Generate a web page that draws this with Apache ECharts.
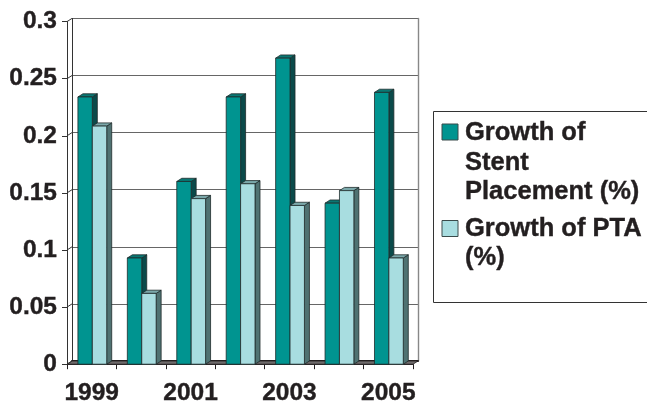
<!DOCTYPE html>
<html><head><meta charset="utf-8">
<style>html,body{margin:0;padding:0;background:#fff}#c{width:647px;height:403px}</style>
<script src="https://cdn.jsdelivr.net/npm/echarts@6/dist/echarts.min.js"></script>
</head><body><div id="c"></div>
<script>
const categories = ['1999','2000','2001','2002','2003','2004','2005'];
const stentGrowth = [0.234,0.093,0.160,0.234,0.268,0.141,0.238];
const ptaGrowth = [0.2085,0.062,0.145,0.158,0.139,0.152,0.093];
const yTicks = [0,0.05,0.1,0.15,0.2,0.25,0.3];
const legendLines = [['Growth of','Stent','Placement (%)'],['Growth of PTA','(%)']];
const stentNames = 'Growth of Stent Placement (%)';
const ptaNames = 'Growth of PTA (%)';

const FONT = '"Liberation Sans", Arial, sans-serif';
const INK = '#231f20';
const DX = 5, DY = 3.2, BAR = 14.4;
const OUT = '#1e2b2b';

function barSeries(name, data, offset, front, top, side) {
  return {
    type: 'custom', name, xAxisIndex: 0, yAxisIndex: 0, clip: false, silent: true,
    encode: {x: 0, y: 1},
    data: data.map((v, i) => [i, v]),
    renderItem(params, api) {
      const p = api.coord([api.value(0), api.value(1)]);
      const b = api.coord([api.value(0), 0]);
      const x0 = p[0] + 0.6 + offset * BAR, x1 = x0 + BAR, y0 = p[1], y1 = b[1];
      const st = {stroke: OUT, lineWidth: 0.8};
      return {type: 'group', children: [
        {type: 'polygon', shape: {points: [[x1,y0],[x1+DX,y0-DY],[x1+DX,y1-DY],[x1,y1]]}, style: {fill: side, ...st}},
        {type: 'polygon', shape: {points: [[x0,y0],[x0+DX,y0-DY],[x1+DX,y0-DY],[x1,y0]]}, style: {fill: top, ...st}},
        {type: 'rect', shape: {x: x0, y: y0, width: BAR, height: y1-y0}, style: {fill: front, ...st}}
      ]};
    }
  };
}

const wall = {
  type: 'custom', xAxisIndex: 0, yAxisIndex: 0, clip: false, silent: true, z: 1,
  encode: {y: 1},
  data: yTicks.map((v, i) => [i, v]),
  renderItem(params, api) {
    const cs = params.coordSys;
    const y = api.coord([0, api.value(1)])[1];
    const kids = [{type: 'line', shape: {x1: cs.x, y1: y, x2: cs.x+DX, y2: y-DY}, style: {stroke: '#333', lineWidth: 1}}];
    if (api.value(1) === 0) {
      kids.unshift({type: 'polygon', shape: {points: [[cs.x,y],[cs.x+DX,y-DY],[cs.x+cs.width+DX,y-DY],[cs.x+cs.width,y]]},
        style: {fill: '#6f6b6c', stroke: '#231f20', lineWidth: 0.8}});
    }
    return {type: 'group', children: kids};
  }
};

const gfx = [{type: 'rect', shape: {x: 433.5, y: 111.5, width: 240, height: 191}, style: {fill: '#fff', stroke: '#333', lineWidth: 1}}];
const swatches = [[124, '#009490', 465, 146],[220.5, '#a8dde0', 465, 241.5]];
legendLines.forEach((lines, k) => {
  const [sy, col, tx, base] = swatches[k];
  gfx.push({type: 'rect', shape: {x: 442, y: sy, width: 16, height: 16}, style: {fill: col, stroke: '#3a4a4a', lineWidth: 1}});
  lines.forEach((t, j) => gfx.push({type: 'text', x: tx, y: base + j * 29.6,
    style: {text: t, fill: INK, font: 'bold 25.5px ' + FONT, textAlign: 'left', textVerticalAlign: 'bottom', stroke: INK, lineWidth: 0.4}}));
});

const chart = echarts.init(document.getElementById('c'), null, {renderer: 'canvas'});
chart.setOption({
  animation: false,
  backgroundColor: '#fff',
  graphic: gfx,
  grid: [
    {left: 67, top: 21.6, width: 346, height: 342.6, outerBoundsMode: 'none'},
    {left: 67 + DX, top: 21.6 - DY, width: 346, height: 342.6, outerBoundsMode: 'none'}
  ],
  xAxis: [
    {type: 'category', gridIndex: 0, data: categories,
     axisLine: {lineStyle: {color: INK, width: 1.2}},
     axisTick: {show: true, interval: 0, length: 5, lineStyle: {color: INK, width: 1}},
     axisLabel: {interval: 1, margin: 17, color: INK, fontFamily: FONT, fontWeight: 'bold', fontSize: 24.5, hideOverlap: false,
       textBorderColor: INK, textBorderWidth: 0.4}},
    {type: 'category', gridIndex: 1, data: categories, position: 'top',
     axisLine: {lineStyle: {color: '#231f20', width: 2}}, axisTick: {show: false}, axisLabel: {show: false}}
  ],
  yAxis: [
    {type: 'value', gridIndex: 0, min: 0, max: 0.3, interval: 0.05,
     axisLine: {show: true, lineStyle: {color: '#333', width: 1}},
     axisTick: {show: true, length: 5, lineStyle: {color: '#333', width: 1}},
     splitLine: {show: false},
     axisLabel: {margin: 10, color: INK, fontFamily: FONT, fontWeight: 'bold', fontSize: 24.5, padding: [3,0,0,0],
       textBorderColor: INK, textBorderWidth: 0.4,
       formatter: v => String(+v.toFixed(2))}},
    {type: 'value', gridIndex: 1, min: 0, max: 0.3, interval: 0.05,
     axisLine: {show: true, lineStyle: {color: '#333', width: 1}},
     axisTick: {show: false}, axisLabel: {show: false},
     splitLine: {show: true, lineStyle: {color: '#666', width: 1.2}}},
    {type: 'value', gridIndex: 1, position: 'right', min: 0, max: 0.3, interval: 0.05,
     axisLine: {show: true, lineStyle: {color: '#888', width: 1.4}},
     axisTick: {show: false}, axisLabel: {show: false}, splitLine: {show: false}}
  ],
  series: [
    wall,
    barSeries(stentNames, stentGrowth, -1, '#009490', '#0a7773', '#0b4a4a'),
    barSeries(ptaNames, ptaGrowth, 0, '#a8dde0', '#7ba8aa', '#4f7272')
  ]
});
</script></body></html>
